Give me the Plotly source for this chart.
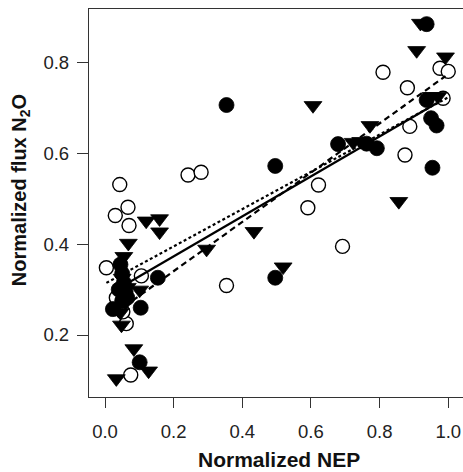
import plotly.graph_objects as go
import numpy as np

# Filled circles
fc_x = [0.937, 0.354, 0.496, 0.679, 0.762, 0.792, 0.937, 0.950, 0.966, 0.954,
        0.496, 0.154, 0.104, 0.023, 0.101,
        0.045, 0.050, 0.055, 0.040, 0.060, 0.050, 0.065]
fc_y = [0.884, 0.706, 0.572, 0.620, 0.621, 0.611, 0.717, 0.677, 0.661, 0.568,
        0.326, 0.326, 0.260, 0.257, 0.140,
        0.355, 0.335, 0.315, 0.300, 0.295, 0.275, 0.282]

# Open circles
oc_x = [0.810, 0.881, 0.976, 1.000, 0.985, 0.888, 0.874, 0.622, 0.591, 0.692,
        0.354, 0.242, 0.280, 0.043, 0.030, 0.067, 0.070, 0.004, 0.106, 0.075,
        0.062, 0.033, 0.052]
oc_y = [0.778, 0.744, 0.787, 0.780, 0.721, 0.659, 0.596, 0.530, 0.480, 0.395,
        0.309, 0.552, 0.558, 0.531, 0.463, 0.481, 0.441, 0.348, 0.330, 0.112,
        0.225, 0.282, 0.251]

# Filled down-triangles
tr_x = [0.919, 0.908, 0.992, 0.606, 0.772, 0.950, 0.970, 0.856, 0.723, 0.745,
        0.434, 0.296, 0.519, 0.120, 0.159, 0.159, 0.068, 0.055, 0.101, 0.048,
        0.084, 0.033, 0.127, 0.050, 0.065, 0.060, 0.045]
tr_y = [0.886, 0.826, 0.812, 0.705, 0.661, 0.725, 0.725, 0.494, 0.624, 0.626,
        0.428, 0.389, 0.350, 0.451, 0.456, 0.427, 0.402, 0.373, 0.299, 0.222,
        0.170, 0.104, 0.121, 0.325, 0.305, 0.272, 0.250]

# Regression lines: (slope, intercept, x_min, x_max)
fit_filled = (0.440, 0.285, 0.023, 0.966)
fit_open = (0.410, 0.313, 0.004, 1.000)
fit_tri = (0.542, 0.232, 0.033, 0.992)

x_ticks = [0.0, 0.2, 0.4, 0.6, 0.8, 1.0]
y_ticks = [0.2, 0.4, 0.6, 0.8]

FONT = "Liberation Sans, Arial, sans-serif"

fig = go.Figure()

fig.add_trace(go.Scatter(x=oc_x, y=oc_y, mode="markers",
                         marker=dict(symbol="circle", size=14, color="white",
                                     line=dict(color="black", width=1.4)),
                         showlegend=False))
fig.add_trace(go.Scatter(x=fc_x, y=fc_y, mode="markers",
                         marker=dict(symbol="circle", size=15, color="black",
                                     line=dict(color="black", width=0.8)),
                         showlegend=False))
fig.add_trace(go.Scatter(x=tr_x, y=tr_y, mode="markers",
                         marker=dict(symbol="triangle-down", size=15.5, color="black",
                                     line=dict(color="black", width=0.8)),
                         showlegend=False))

for fit, dash in [(fit_filled, "solid"), (fit_open, "3px,2.5px"), (fit_tri, "6px,4px")]:
    s, b, x0, x1 = fit
    xs = [x0, x1]
    ys = [b + s * v for v in xs]
    fig.add_trace(go.Scatter(x=xs, y=ys, mode="lines",
                             line=dict(color="black", width=2.2, dash=dash),
                             showlegend=False))

fig.update_layout(
    width=463, height=472,
    margin=dict(l=89, r=0, t=9, b=75),
    plot_bgcolor="white", paper_bgcolor="white",
    font=dict(family=FONT, color="#222"),
    xaxis=dict(range=[-0.0466, 1.043], tickvals=x_ticks,
               ticktext=[f"{v:.1f}" for v in x_ticks],
               showgrid=False, zeroline=False, showline=True, mirror=True,
               linecolor="#333", linewidth=1.3,
               ticks="outside", ticklen=10, tickwidth=1.3, tickcolor="#333",
               tickfont=dict(size=18.5, family=FONT, color="#222"),
               ticklabelstandoff=8),
    yaxis=dict(range=[0.0636, 0.9173], tickvals=y_ticks,
               ticktext=[f"{v:.1f}" for v in y_ticks],
               showgrid=False, zeroline=False, showline=True, mirror=False,
               linecolor="#333", linewidth=1.3,
               ticks="outside", ticklen=11, tickwidth=1.3, tickcolor="#333",
               tickfont=dict(size=18.5, family=FONT, color="#222"),
               ticklabelstandoff=4),
    annotations=[
        dict(text="<b>Normalized NEP</b>", xref="paper", yref="paper",
             x=0.507, y=-0.1598, xanchor="center", yanchor="middle",
             showarrow=False, font=dict(size=21, family=FONT, color="#111")),
        dict(text="<b>Normalized flux N<sub>2</sub>O</b>", xref="paper", yref="paper",
             x=-0.1845, y=0.533, xanchor="center", yanchor="middle", textangle=-90,
             showarrow=False, font=dict(size=20, family=FONT, color="#111")),
    ],
)

fig.write_html("out.html", config={"displayModeBar": False},
               post_script="document.body.style.margin='0';document.body.style.padding='0';")
